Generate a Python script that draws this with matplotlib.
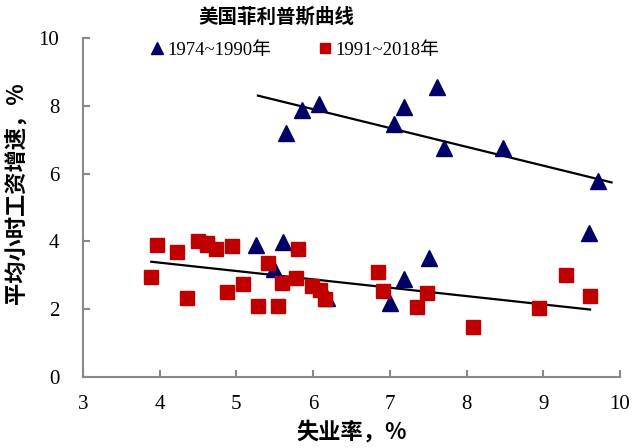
import numpy as np
import matplotlib
matplotlib.use("Agg")
import matplotlib.pyplot as plt

# 1974~1990: 失业率 / 平均小时工资增速
x_7490 = [5.64, 5.85, 6.07, 7.18, 7.05, 7.62, 7.70, 8.48, 9.71,
          5.26, 5.61, 5.49, 6.18, 9.60, 7.51, 7.19, 7.00]
y_7490 = [7.21, 7.88, 8.04, 7.97, 7.45, 8.56, 6.76, 6.76, 5.79,
          3.89, 3.99, 3.18, 2.32, 4.24, 3.52, 2.89, 2.17]

# 1991~2018
x_9118 = [6.85, 7.49, 6.91, 6.09, 5.59, 5.41, 4.94, 4.50, 4.22, 3.97,
          4.74, 5.80, 5.99, 5.54, 5.08, 4.61, 4.62, 5.78, 9.29, 9.61,
          8.94, 8.08, 7.36, 6.16, 5.28, 4.88, 4.35, 3.89]
y_9118 = [3.09, 2.49, 2.55, 2.58, 2.76, 3.35, 3.87, 4.02, 3.68, 3.89,
          3.78, 3.78, 2.68, 2.09, 2.74, 3.94, 3.90, 2.91, 3.02, 2.38,
          2.04, 1.48, 2.07, 2.29, 2.09, 2.50, 2.34, 2.96]

# 趋势线端点
trend1_x = [5.28, 9.89]
trend1_y = [8.30, 5.74]
trend2_x = [3.89, 9.61]
trend2_y = [3.40, 1.99]

x_ticks = [3, 4, 5, 6, 7, 8, 9, 10]
y_ticks = [0, 2, 4, 6, 8, 10]

cjk = ["Noto Sans CJK SC", "DejaVu Sans"]
serif = ["Liberation Serif", "Noto Sans CJK SC"]

fig = plt.figure(figsize=(6.44, 4.48), dpi=100)
ax = fig.add_axes([83 / 644, 1 - 377 / 448, 537 / 644, 339 / 448])

ax.plot(trend1_x, trend1_y, color="black", lw=1.6, zorder=2)
ax.plot(trend2_x, trend2_y, color="black", lw=1.6, zorder=2)

ax.plot(x_7490, y_7490, ls="none", marker="^", ms=11.5, color="#000066",
        mec="#000066", label="1974~1990年", zorder=3)
ax.plot(x_9118, y_9118, ls="none", marker="s", ms=10.5, color="#C00000",
        mec="#C00000", label="1991~2018年", zorder=4)

ax.set_xlim(3, 10)
ax.set_ylim(0, 10)
ax.set_xticks(x_ticks)
ax.set_yticks(y_ticks)
for lab in ax.get_xticklabels() + ax.get_yticklabels():
    lab.set_family(serif)
    lab.set_fontsize(15)

for s in ["top", "right"]:
    ax.spines[s].set_visible(False)
for s in ["left", "bottom"]:
    ax.spines[s].set_color("#898989")
    ax.spines[s].set_linewidth(1.5)
ax.tick_params(axis="x", direction="in", length=5, width=1.5, color="#898989", pad=13)
ax.tick_params(axis="y", direction="in", length=5, width=1.5, color="#898989", pad=17)

fig.text(276 / 644, 1 - 17 / 448, "美国菲利普斯曲线", family=cjk, fontsize=14,
         fontweight="bold", ha="center", va="center")
fig.text(16 / 644, 1 - 193 / 448, "平均小时工资增速，%", family=cjk, fontsize=16,
         fontweight="bold", ha="center", va="center", rotation=90)
fig.text(352 / 644, 1 - 432 / 448, "失业率，%", family=cjk, fontsize=16,
         fontweight="bold", ha="center", va="center")

fig.legend(loc="center", bbox_to_anchor=(296 / 644, 1 - 50 / 448), ncol=2,
           frameon=False, prop={"family": serif, "size": 13.5},
           handlelength=0.5, handletextpad=0.3, columnspacing=2.6, markerscale=0.72)

fig.savefig("out.png", dpi=100)
